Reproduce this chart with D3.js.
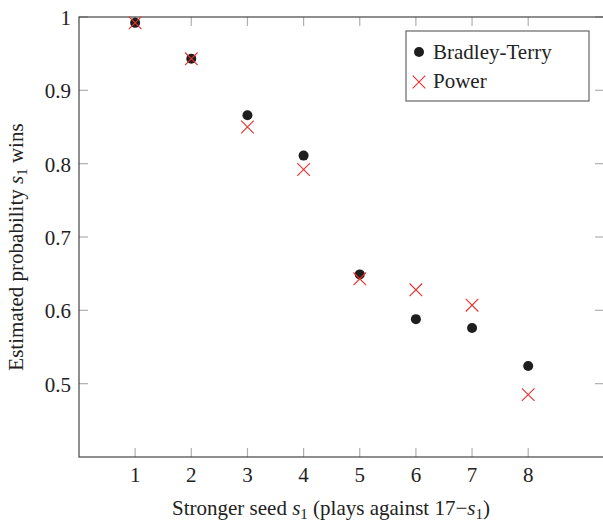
<!DOCTYPE html>
<html>
<head>
<meta charset="utf-8">
<script src="https://cdn.jsdelivr.net/npm/d3@7"></script>
<style>
  body { margin: 0; background: #fff; }
</style>
</head>
<body>
<div id="chart"></div>
<script>
// seeds and the two estimates
var seeds = [1, 2, 3, 4, 5, 6, 7, 8];
var bradleyTerry = [0.992, 0.943, 0.866, 0.811, 0.649, 0.588, 0.576, 0.524];
var power = [0.992, 0.943, 0.850, 0.792, 0.643, 0.628, 0.607, 0.485];
var yTicks = [0.5, 0.6, 0.7, 0.8, 0.9, 1];
var seriesNames = ["Bradley-Terry", "Power"];

var serif = "'Liberation Serif', 'Times New Roman', serif";

function drawChart(targetElement) {

    var width = 603, height = 522;
    var margin = {top: 17, right: -1, bottom: 65, left: 79};
    var w = width - margin.left - margin.right;
    var h = height - margin.top - margin.bottom;

    var svg = d3.select(targetElement).append("svg")
        .attr("width", width)
        .attr("height", height)
        .attr("font-family", serif);

    var g = svg.append("g")
        .attr("transform", "translate(" + margin.left + "," + margin.top + ")");

    var x = d3.scaleLinear().domain([0, 9.35]).range([0, w]);
    var y = d3.scaleLinear().domain([0.4, 1]).range([h, 0]);

    var tickColor = "#b0b0b0";
    var tickLen = 9;

    // ticks on all four sides, pointing inward
    var tk = g.append("g").attr("stroke", tickColor).attr("stroke-width", 1.2);
    seeds.forEach(function(s) {
        tk.append("line").attr("x1", x(s)).attr("x2", x(s)).attr("y1", h).attr("y2", h - tickLen);
        tk.append("line").attr("x1", x(s)).attr("x2", x(s)).attr("y1", 0).attr("y2", tickLen);
    });
    yTicks.forEach(function(v) {
        tk.append("line").attr("x1", 0).attr("x2", tickLen).attr("y1", y(v)).attr("y2", y(v));
        tk.append("line").attr("x1", w).attr("x2", w - tickLen).attr("y1", y(v)).attr("y2", y(v));
    });

    // frame
    g.append("rect")
        .attr("x", 0).attr("y", 0)
        .attr("width", w).attr("height", h)
        .attr("fill", "none")
        .attr("stroke", "#444")
        .attr("stroke-width", 1.2);

    // tick labels
    g.selectAll(".xl").data(seeds).enter().append("text")
        .attr("x", function(d) { return x(d); })
        .attr("y", h + 25)
        .attr("text-anchor", "middle")
        .attr("font-size", 21)
        .attr("fill", "#222")
        .text(function(d) { return d; });

    g.selectAll(".yl").data(yTicks).enter().append("text")
        .attr("x", -8)
        .attr("y", function(d) { return y(d) + 8; })
        .attr("text-anchor", "end")
        .attr("font-size", 21)
        .attr("fill", "#222")
        .text(function(d) { return d; });

    // Bradley-Terry dots
    g.append("g").selectAll("circle")
        .data(seeds)
        .enter().append("circle")
        .attr("cx", function(d) { return x(d); })
        .attr("cy", function(d, i) { return y(bradleyTerry[i]); })
        .attr("r", 5)
        .attr("fill", "#1e1e1e");

    // Power crosses
    var cs = 6.3;
    var crosses = g.append("g").attr("stroke", "#e8302f").attr("stroke-width", 1.1);
    seeds.forEach(function(d, i) {
        var cx = x(d), cy = y(power[i]);
        crosses.append("path")
            .attr("d", "M" + (cx - cs) + "," + (cy - cs) + "L" + (cx + cs) + "," + (cy + cs) +
                       "M" + (cx - cs) + "," + (cy + cs) + "L" + (cx + cs) + "," + (cy - cs));
    });

    // legend
    var lg = svg.append("g");
    lg.append("rect")
        .attr("x", 406).attr("y", 31)
        .attr("width", 183).attr("height", 70)
        .attr("fill", "#fff")
        .attr("stroke", "#666")
        .attr("stroke-width", 1.2);
    lg.append("circle").attr("cx", 419).attr("cy", 52).attr("r", 5).attr("fill", "#1e1e1e");
    lg.append("path")
        .attr("d", "M" + (419 - cs) + "," + (82 - cs) + "L" + (419 + cs) + "," + (82 + cs) +
                   "M" + (419 - cs) + "," + (82 + cs) + "L" + (419 + cs) + "," + (82 - cs))
        .attr("stroke", "#e8302f").attr("stroke-width", 1.1);
    lg.append("text").attr("x", 433).attr("y", 59).attr("font-size", 21).attr("fill", "#222").text(seriesNames[0]);
    lg.append("text").attr("x", 433).attr("y", 88).attr("font-size", 21).attr("fill", "#222").text(seriesNames[1]);

    // x axis label
    var xl = svg.append("text")
        .attr("x", 331).attr("y", 515)
        .attr("text-anchor", "middle")
        .attr("font-size", 21)
        .attr("fill", "#222");
    xl.append("tspan").text("Stronger seed ");
    xl.append("tspan").attr("font-style", "italic").text("s");
    xl.append("tspan").attr("font-size", 15).attr("dy", 4).text("1");
    xl.append("tspan").attr("dy", -4).text(" (plays against 17\u2212");
    xl.append("tspan").attr("font-style", "italic").text("s");
    xl.append("tspan").attr("font-size", 15).attr("dy", 4).text("1");
    xl.append("tspan").attr("dy", -4).text(")");

    // y axis label
    var yl = svg.append("text")
        .attr("transform", "translate(23,247) rotate(-90)")
        .attr("text-anchor", "middle")
        .attr("font-size", 21)
        .attr("fill", "#222");
    yl.append("tspan").text("Estimated probability ");
    yl.append("tspan").attr("font-style", "italic").text("s");
    yl.append("tspan").attr("font-size", 15).attr("dy", 4).text("1");
    yl.append("tspan").attr("dy", -4).text(" wins");
}

drawChart("#chart");
</script>
</body>
</html>
